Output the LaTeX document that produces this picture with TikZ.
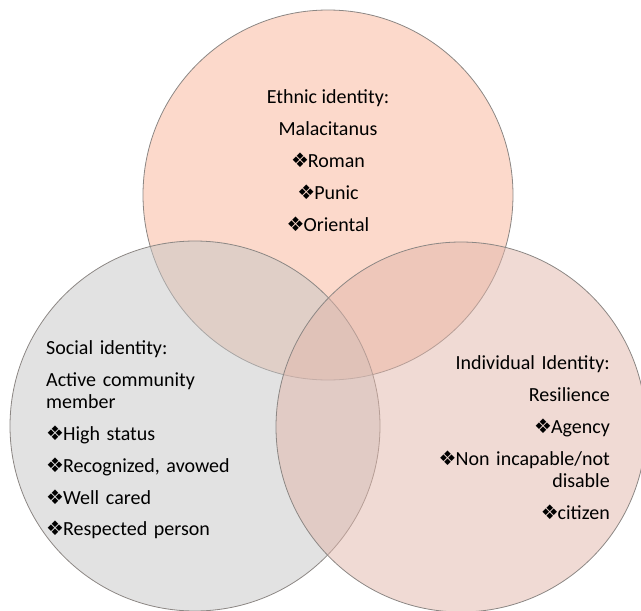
\documentclass[tikz,border=0pt]{standalone}
\usepackage{fontspec}
\setmainfont{Carlito}
\newfontfamily\diafont[Scale=1.0]{DejaVu Sans}
\usetikzlibrary{positioning}

\definecolor{ethnicfill}{RGB}{249,179,151}
\definecolor{socialfill}{RGB}{197,197,197}
\definecolor{indivfill}{RGB}{225,181,169}
\definecolor{vennline}{RGB}{140,135,132}

\newcommand{\dia}{{\diafont ❖}\kern-1pt}

\begin{document}
\begin{tikzpicture}[
  x=1pt, y=-1pt,
  venn/.style={circle,draw=vennline,line width=0.8pt,fill opacity=0.5,minimum size=370pt,inner sep=0pt},
  txt/.style={inner sep=0pt,text height=14pt,text depth=5pt,font=\fontsize{20}{20}\selectfont},
  ltxt/.style={txt,text width=250pt,align=left},
  rtxt/.style={txt,text width=250pt,align=right},
  node distance=12.5pt
]
  \useasboundingbox (0,0) rectangle (641,611);

  % Circles
  \node [venn,fill=ethnicfill] (ethnic) at (328,195) {};
  \node [venn,fill=socialfill] (social) at (195,426) {};
  \node [venn,fill=indivfill] (indiv) at (461,427) {};

  % Ethnic identity
  \node [txt,anchor=base] (e0) at (328,103.5) {Ethnic identity:};
  \node [txt,below=of e0] (e1) {Malacitanus};
  \node [txt,below=of e1] (e2) {\dia Roman};
  \node [txt,below=of e2] (e3) {\dia Punic};
  \node [txt,below=of e3] (e4) {\dia Oriental};

  % Social identity
  \node [ltxt,anchor=base west] (s0) at (46,354.5) {Social identity:};
  \node [ltxt,below=of s0] (s1) {Active community};
  \node [ltxt,below=2.5pt of s1] (s1b) {member};
  \node [ltxt,below=of s1b] (s2) {\dia High status};
  \node [ltxt,below=of s2] (s3) {\dia Recognized, avowed};
  \node [ltxt,below=of s3] (s4) {\dia Well cared};
  \node [ltxt,below=of s4] (s5) {\dia Respected person};

  % Individual identity
  \node [rtxt,anchor=base east] (i0) at (610,369.5) {Individual Identity:};
  \node [rtxt,below=of i0] (i1) {Resilience};
  \node [rtxt,below=of i1] (i2) {\dia Agency};
  \node [rtxt,below=of i2] (i3) {\dia Non incapable/not};
  \node [rtxt,below=2.5pt of i3] (i3b) {disable};
  \node [rtxt,below=of i3b] (i4) {\dia citizen};
\end{tikzpicture}
\end{document}
